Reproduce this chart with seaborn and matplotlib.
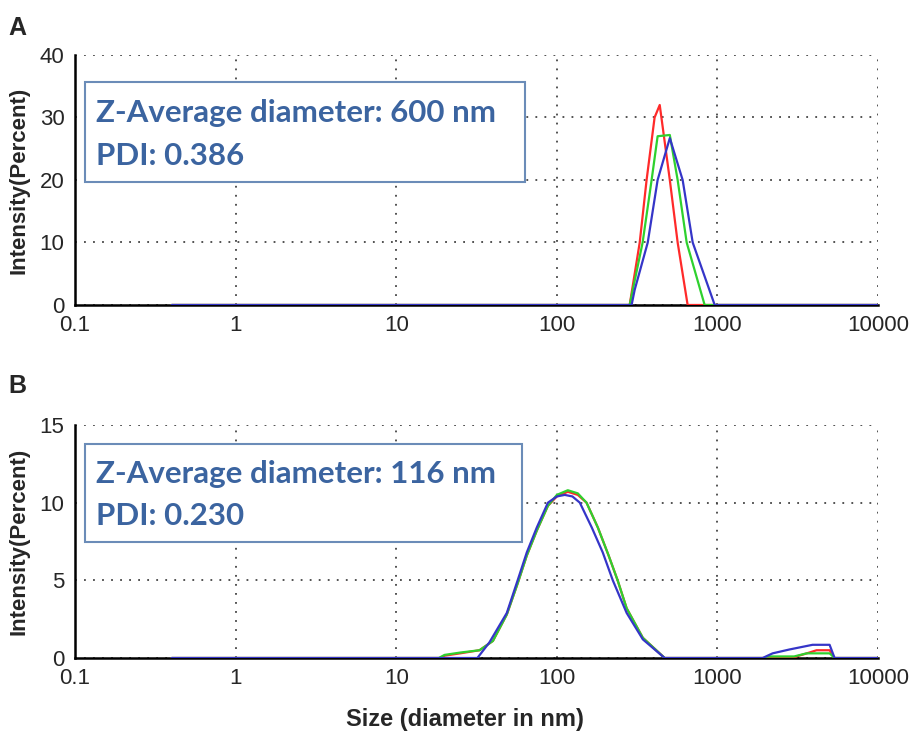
import numpy as np
import pandas as pd
import matplotlib
matplotlib.use("Agg")
import matplotlib.pyplot as plt
from matplotlib.ticker import FixedLocator, LogLocator, NullFormatter, MultipleLocator
import seaborn as sns

# Panel A
red_a_size = [0.4, 284, 328, 362, 406, 437, 505, 565, 652, 10000]
red_a_int = [0, 0, 10, 20, 30, 32, 20, 10, 0, 0]
green_a_size = [0.4, 284, 342, 389, 424, 505, 565, 643, 832, 10000]
green_a_int = [0, 0, 10, 20, 27, 27.2, 20, 10, 0, 0]
blue_a_size = [0.4, 292, 305, 368, 424, 505, 607, 701, 961, 10000]
blue_a_int = [0, 0, 2.4, 10, 20, 26.7, 20, 10, 0, 0]

# Panel B
red_b_size = [0.4, 18.7, 20, 25, 33, 40, 48.8, 57, 65, 75, 88, 100, 117, 135, 153, 180, 210, 239, 272, 343, 469,
              3000, 3100, 3600, 4140, 4990, 5360, 10000]
red_b_int = [0, 0, 0.15, 0.3, 0.5, 1.1, 2.8, 4.8, 6.6, 8.2, 9.8, 10.4, 10.7, 10.5, 10.0, 8.4, 6.6, 5.0, 3.2, 1.3, 0,
             0, 0.1, 0.3, 0.5, 0.5, 0, 0]
green_b_size = [0.4, 18.4, 20, 25, 33, 40, 48.8, 57, 65, 75, 88, 100, 117, 135, 153, 180, 210, 239, 272, 343, 469,
                1950, 2050, 3000, 3590, 4990, 5360, 10000]
green_b_int = [0, 0, 0.2, 0.35, 0.5, 1.1, 2.8, 4.8, 6.6, 8.2, 9.8, 10.5, 10.8, 10.6, 10.0, 8.4, 6.6, 5.0, 3.2, 1.3, 0,
               0, 0.1, 0.1, 0.3, 0.3, 0, 0]
blue_b_size = [0.4, 32, 38, 48.8, 57, 65, 75, 88, 100, 112, 125, 139, 165, 193, 223, 272, 343, 469,
               1910, 2205, 2810, 3910, 4990, 5360, 10000]
blue_b_int = [0, 0, 1.0, 2.9, 5.0, 6.8, 8.4, 10.0, 10.4, 10.5, 10.4, 10.0, 8.4, 6.8, 5.0, 2.9, 1.2, 0,
              0, 0.3, 0.55, 0.85, 0.85, 0, 0]

x_ticks = [0.1, 1, 10, 100, 1000, 10000]
x_tick_labels = ["0.1", "1", "10", "100", "1000", "10000"]

box_a = ["Z-Average diameter: 600 nm", "PDI: 0.386"]
box_b = ["Z-Average diameter: 116 nm", "PDI: 0.230"]

colors = {"red": "#ff2a2a", "green": "#2ed12e", "blue": "#3535c8"}
text_blue = "#3b64a0"

sns.set_style("white")
plt.rcParams["font.family"] = ["Liberation Sans", "DejaVu Sans"]

fig = plt.figure(figsize=(9.09, 7.39), dpi=100)
ax_a = fig.add_axes([0.0825, 0.5873, 0.8835, 0.3383])
ax_b = fig.add_axes([0.0825, 0.1096, 0.8835, 0.3153])


def build_frame(series):
    rows = []
    for name, sizes, vals in series:
        for s, v in zip(sizes, vals):
            rows.append({"size": s, "intensity": v, "run": name})
    return pd.DataFrame(rows)


def style_axis(ax, ymax, ystep, box_lines, box_rect):
    ax.set_xscale("log")
    ax.set_xlim(0.1, 10000)
    ax.set_ylim(0, ymax)
    ax.xaxis.set_major_locator(FixedLocator(x_ticks))
    ax.set_xticklabels(x_tick_labels)
    ax.xaxis.set_minor_locator(LogLocator(base=10, subs=np.arange(2, 10)))
    ax.xaxis.set_minor_formatter(NullFormatter())
    ax.yaxis.set_major_locator(MultipleLocator(ystep))
    ax.yaxis.set_minor_locator(MultipleLocator(ystep / 2))
    ax.tick_params(axis="both", which="major", labelsize=16, direction="inout", length=8, width=1.5, color="black")
    ax.tick_params(axis="y", which="minor", direction="inout", length=6, width=1.5, color="black")
    ax.tick_params(axis="x", which="minor", direction="inout", length=3, width=1.5, color="#333333")
    ax.grid(True, which="major", linestyle=(0, (1, 4)), color="#444444", linewidth=1.3)
    for side in ["top", "right"]:
        ax.spines[side].set_visible(False)
    ax.spines["left"].set_color("black")
    ax.spines["left"].set_linewidth(1.8)
    ax.spines["bottom"].set_color("black")
    ax.spines["bottom"].set_linewidth(1.8)
    ax.set_xlabel("")
    ax.set_ylabel("Intensity(Percent)", fontsize=16, fontweight="bold")
    ax.yaxis.set_label_coords(-0.057, 0.5)
    if ax.get_legend() is not None:
        ax.get_legend().remove()
    # annotation box
    x0, y0, w, h = box_rect
    rect = plt.Rectangle((x0, y0), w, h, transform=ax.transAxes, facecolor="white",
                         edgecolor="#6b8cb8", linewidth=1.5, zorder=5)
    ax.add_patch(rect)
    ax.text(x0 + 0.014, y0 + h * 0.69, box_lines[0], transform=ax.transAxes, fontsize=22.5,
            fontweight="bold", color=text_blue, family="Lato", va="center", zorder=6)
    ax.text(x0 + 0.014, y0 + h * 0.26, box_lines[1], transform=ax.transAxes, fontsize=22.5,
            fontweight="bold", color=text_blue, family="Lato", va="center", zorder=6)


df_a = build_frame([("red", red_a_size, red_a_int), ("green", green_a_size, green_a_int),
                    ("blue", blue_a_size, blue_a_int)])
df_b = build_frame([("red", red_b_size, red_b_int), ("green", green_b_size, green_b_int),
                    ("blue", blue_b_size, blue_b_int)])

for ax, df in [(ax_a, df_a), (ax_b, df_b)]:
    sns.lineplot(data=df, x="size", y="intensity", hue="run", palette=colors, ax=ax,
                 linewidth=1.6, sort=False, estimator=None, zorder=3)

style_axis(ax_a, 40, 10, box_a, (0.012, 0.49, 0.548, 0.40))
style_axis(ax_b, 15, 5, box_b, (0.012, 0.50, 0.545, 0.42))

fig.text(0.009, 0.979, "A", fontsize=18, fontweight="bold", va="top")
fig.text(0.009, 0.494, "B", fontsize=18, fontweight="bold", va="top")
fig.text(0.511, 0.026, "Size (diameter in nm)", fontsize=17, fontweight="bold", ha="center", va="center")

fig.savefig("out.png", dpi=100)
